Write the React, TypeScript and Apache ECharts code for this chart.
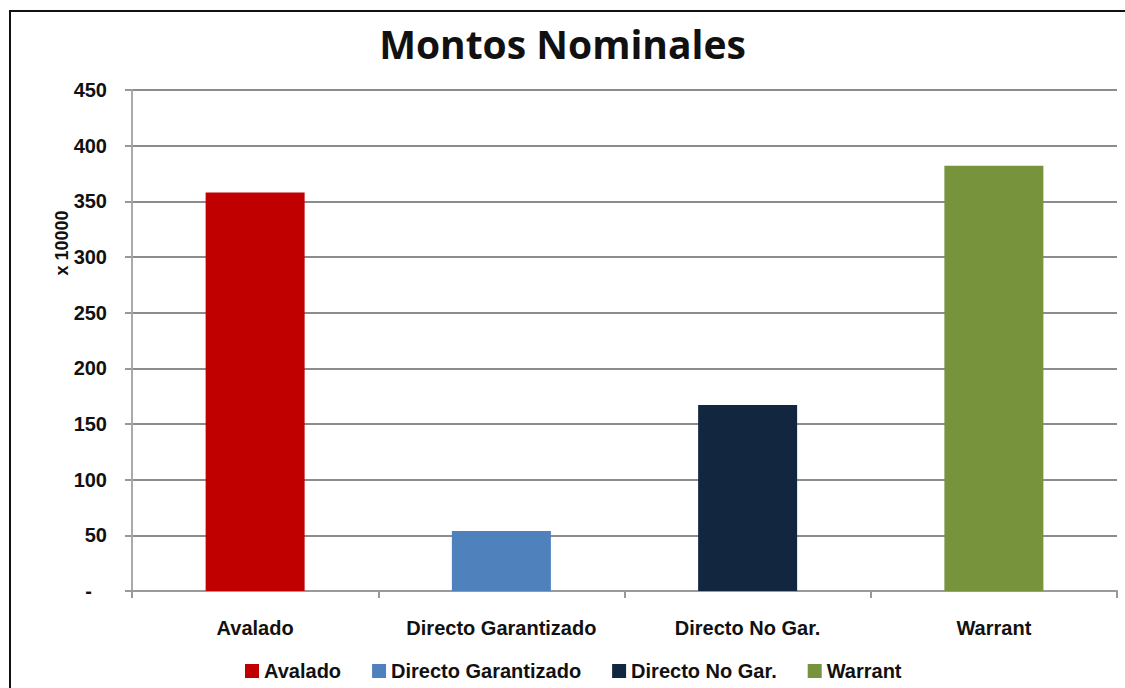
import React, { useEffect, useRef } from "react";
import * as echarts from "echarts";

const categories = ["Avalado", "Directo Garantizado", "Directo No Gar.", "Warrant"];
const values = [358, 54, 167, 382];
const colors = ["#C00000", "#4F81BD", "#132640", "#77933C"];
const yTicks = [0, 50, 100, 150, 200, 250, 300, 350, 400, 450];

const FONT = "'Liberation Sans Narrow', 'Arial Narrow', 'Liberation Sans', sans-serif";

export default function App() {
  const ref = useRef<HTMLDivElement>(null);
  useEffect(() => {
    if (!ref.current) return;
    const chart = echarts.init(ref.current, null, { renderer: "svg" });
    const series = categories.map((name, i) => ({
      name,
      type: "bar",
      stack: "all",
      barWidth: 99,
      itemStyle: { color: colors[i] },
      data: categories.map((_, j) => (j === i ? values[i] : "-")),
    }));
    chart.setOption({
      animation: false,
      backgroundColor: "#ffffff",
      title: {
        text: "Montos Nominales",
        left: "center",
        top: 19,
        textStyle: { fontFamily: "'Open Sans', sans-serif", fontWeight: "bold", fontSize: 39, color: "#111" },
      },
      graphic: [
        {
          type: "rect",
          shape: { x: 10, y: 11, width: 1200, height: 800 },
          style: { fill: "none", stroke: "#111", lineWidth: 2 },
          silent: true,
        },
        {
          type: "text",
          x: 62,
          y: 243,
          rotation: Math.PI / 2,
          style: {
            text: "x 10000",
            font: "bold 18px " + FONT,
            fill: "#111",
            align: "center",
            verticalAlign: "middle",
          },
        },
      ],
      legend: {
        bottom: 2,
        left: 240,
        itemWidth: 14,
        itemHeight: 14,
        itemGap: 31,
        icon: "rect",
        textStyle: { fontFamily: FONT, fontWeight: "bold", fontSize: 20, color: "#111" },
        data: categories,
      },
      grid: { left: 132, right: 8, top: 90, bottom: 97, containLabel: false },
      xAxis: {
        type: "category",
        data: categories,
        axisLine: { lineStyle: { color: "#999", width: 2 } },
        axisTick: { show: true, interval: 0, length: 7, lineStyle: { color: "#999", width: 2 } },
        axisLabel: { interval: 0, margin: 27, fontFamily: FONT, fontWeight: "bold", fontSize: 20, color: "#111" },
      },
      yAxis: {
        type: "value",
        min: 0,
        max: 450,
        interval: 50,
        axisLine: { show: true, lineStyle: { color: "#aaa", width: 2 } },
        axisTick: { show: true, length: 7, lineStyle: { color: "#999", width: 2 } },
        splitLine: { lineStyle: { color: "#8c8c8c", width: 2 } },
        axisLabel: {
          margin: 25,
          fontFamily: FONT,
          fontWeight: "bold",
          fontSize: 20,
          color: "#111",
          formatter: (v: number) => (v === yTicks[0] ? "{d|-}" : String(v)),
          rich: {
            d: { padding: [0, 15, 0, 0], fontFamily: FONT, fontWeight: "bold", fontSize: 20, color: "#111" },
          },
        },
      },
      series,
    });
    return () => chart.dispose();
  }, []);
  return <div ref={ref} style={{ width: 1125, height: 688, position: "absolute", left: 0, top: 0 }} />;
}
